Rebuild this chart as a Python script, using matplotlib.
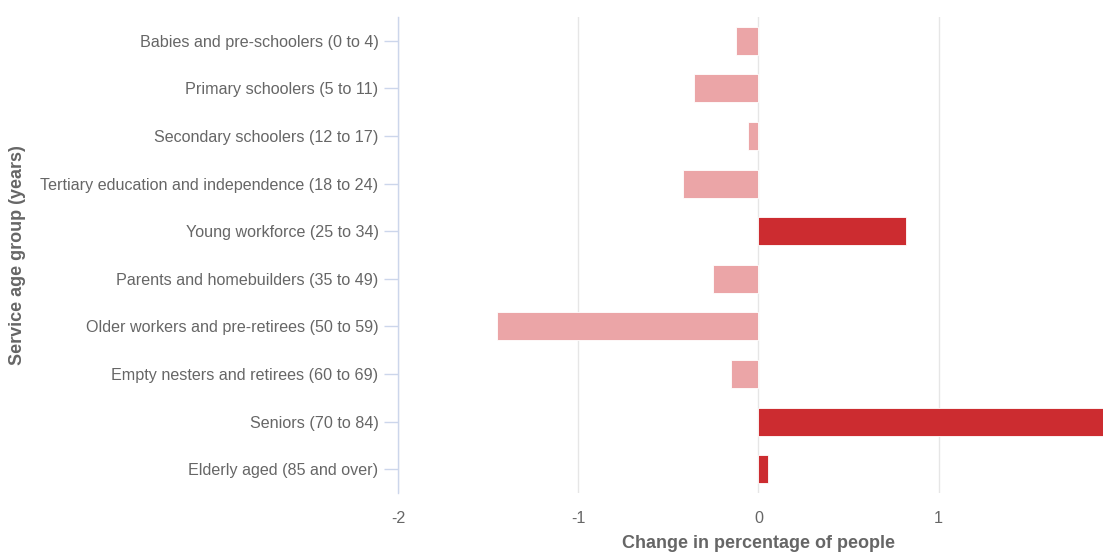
import matplotlib.pyplot as plt

plt.rcParams['font.family'] = ['Liberation Sans', 'DejaVu Sans']

groups = [
    "Babies and pre-schoolers (0 to 4)",
    "Primary schoolers (5 to 11)",
    "Secondary schoolers (12 to 17)",
    "Tertiary education and independence (18 to 24)",
    "Young workforce (25 to 34)",
    "Parents and homebuilders (35 to 49)",
    "Older workers and pre-retirees (50 to 59)",
    "Empty nesters and retirees (60 to 69)",
    "Seniors (70 to 84)",
    "Elderly aged (85 and over)",
]
change = [-0.125, -0.36, -0.06, -0.42, 0.82, -0.25, -1.45, -0.15, 1.91, 0.055]

DARK = "#cc2c30"
LIGHT = "#eba5a7"
TXT = "#666666"

fig = plt.figure(figsize=(11.1, 5.52), dpi=100)
ax = fig.add_axes([0.3586, 0.1069, 0.635, 0.8623])

ypos = list(range(len(groups)))
colors = [DARK if v > 0 else LIGHT for v in change]
ax.barh(ypos, change, height=0.59, color=colors, edgecolor="white", linewidth=0.6, zorder=3)

ax.set_ylim(len(groups) - 0.5, -0.5)
ax.set_xlim(-2, 1.912)
ax.set_xticks([-2, -1, 0, 1])
ax.set_xticklabels(["-2", "-1", "0", "1"])
ax.set_yticks(ypos)
ax.set_yticklabels(groups)

ax.grid(axis="x", color="#e6e6e6", linewidth=1, zorder=0)
for s in ["top", "right", "bottom"]:
    ax.spines[s].set_visible(False)
ax.spines["left"].set_color("#ccd6eb")
ax.spines["left"].set_linewidth(1)

ax.tick_params(axis="y", length=10, color="#ccd6eb", width=1, labelsize=11.6, labelcolor=TXT, pad=4)
ax.tick_params(axis="x", length=0, labelsize=11.6, labelcolor=TXT, pad=13)

# axis titles placed in figure pixels like the original
fig.text(759 / 1110, 1 - 544 / 552, "Change in percentage of people", fontsize=13,
         fontweight="bold", color=TXT, ha="center", va="center")
fig.text(18 / 1110, 1 - 255 / 552, "Service age group (years)", fontsize=13,
         fontweight="bold", color=TXT, ha="center", va="center", rotation=90)

fig.savefig("out.png", dpi=100)
